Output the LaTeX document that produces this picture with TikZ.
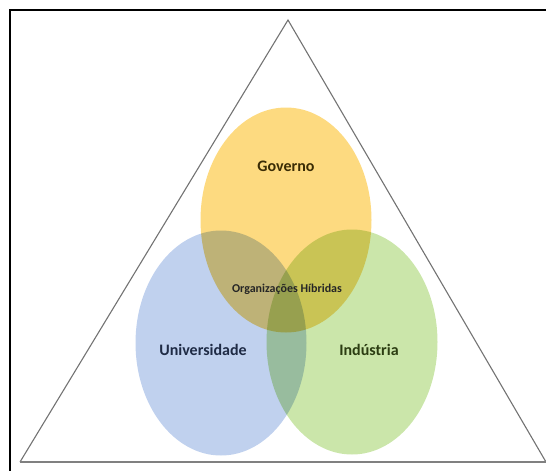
\documentclass[tikz,border=0pt]{standalone}
\usepackage{fontspec}
\setmainfont{Carlito}
\usetikzlibrary{shapes.geometric}

\definecolor{govfill}{HTML}{FDDA80}
\definecolor{unifill}{HTML}{C0D1EE}
\definecolor{indfill}{HTML}{CBE6AA}
\definecolor{unitext}{HTML}{1F2B45}
\definecolor{indtext}{HTML}{2C3D12}
\definecolor{govtext}{HTML}{3A2C05}

\tikzset{
  setor/.style={ellipse, minimum width=171pt, minimum height=225pt, inner sep=0pt},
  rotulo/.style={font=\bfseries\fontsize{16}{18}\selectfont}
}

\begin{document}
\begin{tikzpicture}[x=1pt, y=-1pt]
\useasboundingbox (0,0) rectangle (546,471);

% moldura
\draw[line width=2pt] (10,10) rectangle (560,480);

% triangulo
\coordinate (t0) at (288,20);
\coordinate (t1) at (20,462);
\coordinate (t2) at (546,462);
\draw[gray!90!black, line width=1.1pt] (t1)--(t0)--(t2);
\draw[gray, line width=1.8pt] (t1)--(t2);

% as tres esferas
\begin{scope}[blend group=multiply]
\node[setor, fill=govfill] (gov) at (286,220) {};
\node[setor, fill=unifill] (uni) at (221,343) {};
\node[setor, fill=indfill] (ind) at (352,342) {};
\end{scope}

\node[rotulo, text=govtext] (g) at (286,166) {Governo};
\node[rotulo, text=unitext] (u) at (203,350) {Universidade};
\node[rotulo, text=indtext] (i) at (369,350) {Indústria};
\node[font=\bfseries\fontsize{12}{14}\selectfont, text=black!85] (h) at (287,289) {Organizações Híbridas};
\end{tikzpicture}
\end{document}
